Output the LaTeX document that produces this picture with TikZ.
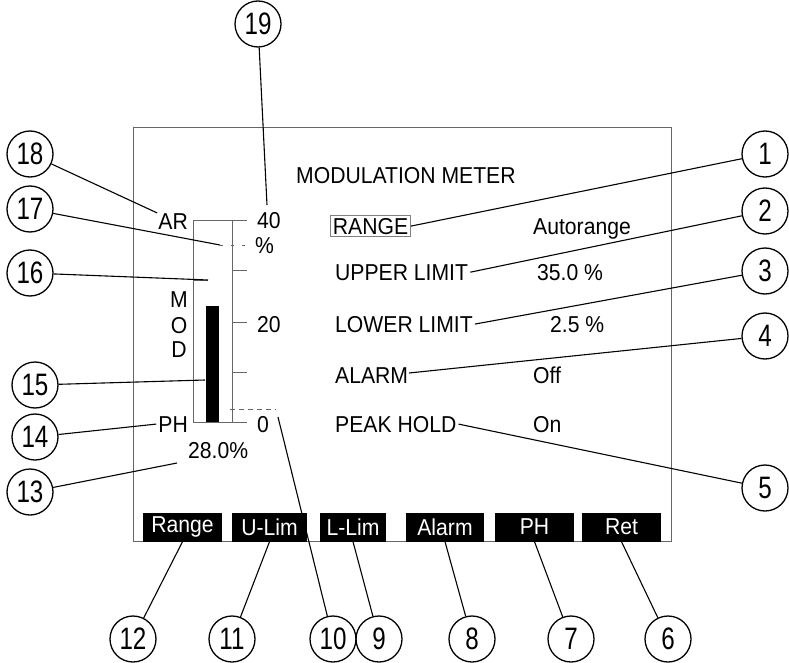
\documentclass[tikz,border=0pt]{standalone}
\usepackage{fontspec}
\setmainfont{Liberation Sans}[FakeStretch=0.92]
\newfontfamily\numfam{Liberation Sans}[FakeStretch=0.78]
\newcommand\lblsize{\fontsize{23}{26}\selectfont}
\newcommand\numsize{\numfam\fontsize{31}{33}\selectfont}
\begin{document}
\begin{tikzpicture}[x=1pt,y=-1pt]
\tikzset{
 num/.style={circle, draw, line width=1.3pt, minimum size=46pt, inner sep=0pt, font=\numsize},
 lead/.style={line width=1.1pt},
 lbl/.style={inner sep=0pt, font=\lblsize},
 btn/.style={fill=black, text=white, inner sep=0pt, minimum height=29pt, font=\lblsize},
 scr/.style={draw=black!60, line width=0.9pt},
}
\fill[white] (0,0) rectangle (789,663);
\path[use as bounding box] (0,0) rectangle (789,663);

% screen frame
\draw[scr] (133,127) rectangle (671,541);

% right column texts
\node[lbl, anchor=base west] (title) at (296,183) {MODULATION METER};
\node[lbl, anchor=base west, draw=black!50, line width=0.8pt, inner sep=2.5pt] (range) at (330,234) {RANGE};
\node[lbl, anchor=base west] (auto) at (533,234) {Autorange};
\node[lbl, anchor=base west] (upper) at (335,280) {UPPER LIMIT};
\node[lbl, anchor=base west] (upv) at (537,280) {35.0 \%};
\node[lbl, anchor=base west] (lower) at (335,332) {LOWER LIMIT};
\node[lbl, anchor=base west] (lowv) at (550,332) {2.5 \%};
\node[lbl, anchor=base west] (alarm) at (335,383) {ALARM};
\node[lbl, anchor=base west] (alv) at (533,383) {Off};
\node[lbl, anchor=base west] (peak) at (335,432) {PEAK HOLD};
\node[lbl, anchor=base west] (pkv) at (533,432) {On};

% bar graph
\fill (206,306) rectangle (219,422);
\draw[scr] (247,220) -- (193,220) -- (193,422) -- (247,422);
\draw[scr] (232,220) -- (232,422);
\draw[scr] (232,270) -- (247,270) (232,322) -- (247,322) (232,372) -- (247,372);
\draw[scr] (193,280) -- (208,280);
\draw[scr, dash pattern=on 3pt off 8pt] (220,245) -- (252,245);
\draw[scr, dash pattern=on 5pt off 4pt] (230,409) -- (276,409);
\node[lbl, anchor=base east] (ar) at (188,229) {AR};
\node[lbl, anchor=base west] (t40) at (257,228) {40};
\node[lbl, anchor=base west] (tpc) at (255,253) {\%};
\node[lbl, anchor=base west] (t20) at (257,332) {20};
\node[lbl, anchor=base west] (t0) at (257,432) {0};
\node[lbl, anchor=base east] (ph) at (188,432) {PH};
\node[lbl, anchor=base west] (pct) at (188,458) {28.0\%};
\node[lbl, anchor=base] (mM) at (179,307) {M};
\node[lbl, anchor=base] (mO) at (179,333) {O};
\node[lbl, anchor=base] (mD) at (179,357) {D};

% soft keys
\node[btn, minimum width=79pt] (bRange) at (182.5,527) {Range};
\node[btn, minimum width=75pt] (bU) at (269.5,527) {U-Lim};
\node[btn, minimum width=66pt] (bL) at (353,527) {L-Lim};
\node[btn, minimum width=78pt] (bA) at (445,527) {Alarm};
\node[btn, minimum width=79pt] (bP) at (534.5,527) {PH};
\node[btn, minimum width=79pt] (bR) at (621.5,527) {Ret};

% callout circles
\node[num] (c1) at (765,154) {1};
\node[num] (c2) at (765,211) {2};
\node[num] (c3) at (765,271) {3};
\node[num] (c4) at (765,336) {4};
\node[num] (c5) at (765,488) {5};
\node[num] (c6) at (668,639) {6};
\node[num] (c7) at (571,639) {7};
\node[num] (c8) at (472,639) {8};
\node[num] (c9) at (379,639) {9};
\node[num] (c10) at (333,639) {10};
\node[num] (c11) at (232,639) {11};
\node[num] (c12) at (133,639) {12};
\node[num] (c13) at (30,492) {13};
\node[num] (c14) at (35,437) {14};
\node[num] (c15) at (35,385) {15};
\node[num] (c16) at (30,273) {16};
\node[num] (c17) at (30,209) {17};
\node[num] (c18) at (30,154) {18};
\node[num] (c19) at (258,24) {19};

% free ends
\coordinate (p19) at (267,205);
\coordinate (p17) at (220,245);
\coordinate (p16) at (208,280);
\coordinate (p15) at (205,380);
\coordinate (p10) at (278,417);
\coordinate (p13) at (177,463);
\coordinate (p4) at (409,373);

% leaders
\draw[lead] (c1) -- (range.east);
\draw[lead] (c2) -- ([xshift=2pt]upper.east);
\draw[lead] (c3) -- ([xshift=2pt]lower.east);
\draw[lead] (c4) -- (p4);
\draw[lead] (c5) -- ([xshift=2pt]peak.east);
\draw[lead] (c6) -- (bR.south);
\draw[lead] (c7) -- (bP.south);
\draw[lead] (c8) -- (bA.south);
\draw[lead] (c9) -- (bL.south);
\draw[lead] (c10) -- (p10);
\draw[lead] (c11) -- (bU.south);
\draw[lead] (c12) -- (bRange.south);
\draw[lead] (c13) -- (p13);
\draw[lead] (c14) -- ([xshift=-2pt]ph.west);
\draw[lead] (c15) -- (p15);
\draw[lead] (c16) -- (p16);
\draw[lead] (c17) -- (p17);
\draw[lead] (c18) -- ([xshift=-1pt]ar.north west);
\draw[lead] (c19) -- (p19);
\end{tikzpicture}
\end{document}
